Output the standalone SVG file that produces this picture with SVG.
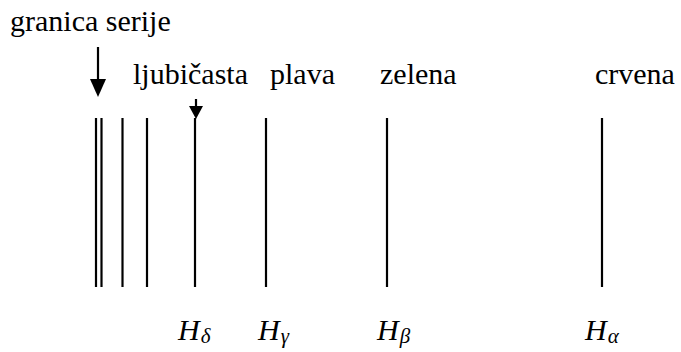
<svg xmlns="http://www.w3.org/2000/svg" width="681" height="352" viewBox="0 0 681 352">
<rect width="681" height="352" fill="#fff"/>
<g id="label-granica"><text x="10" y="31" font-family="Liberation Serif" font-size="30">granica serije</text></g>
<g id="label-ljubicasta"><text x="133" y="84" font-family="Liberation Serif" font-size="30">ljubičasta</text></g>
<g id="label-plava"><text x="270" y="84" font-family="Liberation Serif" font-size="30">plava</text></g>
<g id="label-zelena"><text x="380" y="84" font-family="Liberation Serif" font-size="30">zelena</text></g>
<g id="label-crvena"><text x="595" y="84" font-family="Liberation Serif" font-size="30">crvena</text></g>
<g id="lines" stroke="#000" stroke-width="2.2">
<line x1="96" y1="118" x2="96" y2="287"/>
<line x1="101.5" y1="118" x2="101.5" y2="287"/>
<line x1="122.5" y1="118" x2="122.5" y2="287"/>
<line x1="147" y1="118" x2="147" y2="287"/>
<line x1="195" y1="118" x2="195" y2="287"/>
<line x1="266" y1="118" x2="266" y2="287"/>
<line x1="387" y1="118" x2="387" y2="287"/>
<line x1="602" y1="118" x2="602" y2="287"/>
</g>
<g id="connectors">
<line x1="98" y1="47" x2="98" y2="80" stroke="#000" stroke-width="2.2"/>
<path d="M90,79 L106,79 L98,97 Z" fill="#000"/>
<line x1="196" y1="99" x2="196" y2="108" stroke="#000" stroke-width="2.2"/>
<path d="M189,106 L203,106 L196,119 Z" fill="#000"/>
</g>
<g id="label-Hd"><text x="178" y="340" font-family="Liberation Serif" font-style="italic" font-size="30">H<tspan font-size="21" dx="1" dy="3">δ</tspan></text></g>
<g id="label-Hg"><text x="258" y="340" font-family="Liberation Serif" font-style="italic" font-size="30">H<tspan font-size="21" dx="1" dy="3">γ</tspan></text></g>
<g id="label-Hb"><text x="377" y="340" font-family="Liberation Serif" font-style="italic" font-size="30">H<tspan font-size="21" dx="1" dy="3">β</tspan></text></g>
<g id="label-Ha"><text x="585" y="340" font-family="Liberation Serif" font-style="italic" font-size="30">H<tspan font-size="21" dx="1" dy="3">α</tspan></text></g>
</svg>
